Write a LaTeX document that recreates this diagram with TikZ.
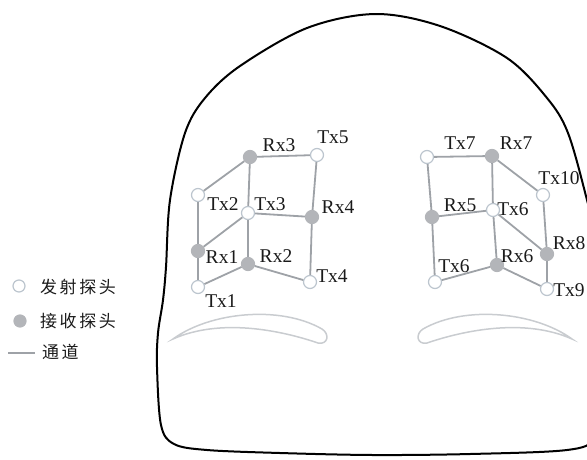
\documentclass[tikz,border=0pt]{standalone}
\usepackage{fontspec}
\setmainfont{Liberation Serif}
\newfontfamily\cjkfont[LetterSpace=15]{Noto Sans CJK SC}
\definecolor{ink}{HTML}{1A1A1A}
\definecolor{chan}{HTML}{9EA2A7}
\definecolor{rxfill}{HTML}{B3B5B9}
\definecolor{txedge}{HTML}{BCC5CE}
\definecolor{brow}{HTML}{C9CCD0}
\begin{document}
\begin{tikzpicture}[x=1pt,y=-1pt,
  probe/.style={circle,minimum size=13pt,inner sep=0pt,line width=1.2pt},
  tx/.style={probe,draw=txedge,fill=white},
  rx/.style={probe,draw=rxfill,fill=rxfill},
  chan/.style={draw=chan,line width=1.8pt},
  lbl/.style={inner sep=0pt,font=\fontsize{19.5}{20}\selectfont,text=ink},
  legend/.style={inner sep=0pt,anchor=west,font=\cjkfont\fontsize{17}{18}\selectfont,text=ink},
  headline/.style={draw=black,line width=2pt},
  browline/.style={draw=brow,line width=1.5pt}]
\useasboundingbox (0,0) rectangle (587,459);
\begin{scope}
\clip (0,0) rectangle (587,459);
% head outline
\draw[headline] plot[smooth cycle,tension=0.55] coordinates {
  (375,14) (440,26) (507,58) (547,98) (568,133) (587,200) (601,260)
  (607,330) (606,400) (595,438) (567,450) (470,454) (373,455) (280,453)
  (207,450) (174,444) (161,425) (157,367) (158,333) (163,300) (166,267)
  (170,200) (185,133) (205,98) (240,66) (307,28)};
\end{scope}
% eyebrows
\draw[browline] (173,339) .. controls (210,312) and (280,305) .. (322,329)
  .. controls (330,334) and (328,345) .. (318,343)
  .. controls (280,330) and (220,318) .. cycle;
\draw[browline] (572,339) .. controls (535,312) and (465,305) .. (423,329)
  .. controls (415,334) and (417,345) .. (427,343)
  .. controls (465,330) and (525,318) .. cycle;

% left probe set
\node[rx] (rx3) at (250,157) {};
\node[tx] (tx5) at (317,155) {};
\node[tx] (tx2) at (198,195) {};
\node[tx] (tx3) at (248,213) {};
\node[rx] (rx4) at (312,217) {};
\node[rx] (rx1) at (198,251) {};
\node[rx] (rx2) at (248,264) {};
\node[tx] (tx4) at (310,282) {};
\node[tx] (tx1) at (198,287) {};
\draw[chan] (rx3) -- (tx5);
\draw[chan] (rx3) -- (tx2);
\draw[chan] (rx3) -- (tx3);
\draw[chan] (tx5) -- (rx4);
\draw[chan] (tx2) -- (rx1);
\draw[chan] (tx3) -- (rx4);
\draw[chan] (tx3) -- (rx1);
\draw[chan] (tx3) -- (rx2);
\draw[chan] (rx4) -- (tx4);
\draw[chan] (rx1) -- (tx1);
\draw[chan] (rx2) -- (tx1);
\draw[chan] (rx2) -- (tx4);
\node[lbl] (l-rx3) at (279,145) {Rx3};
\node[lbl] (l-tx5) at (333,137) {Tx5};
\node[lbl] (l-tx2) at (223,204) {Tx2};
\node[lbl] (l-tx3) at (270,204) {Tx3};
\node[lbl] (l-rx4) at (338,207) {Rx4};
\node[lbl] (l-rx1) at (222,257) {Rx1};
\node[lbl] (l-rx2) at (276,256) {Rx2};
\node[lbl] (l-tx4) at (332,276) {Tx4};
\node[lbl] (l-tx1) at (221,301) {Tx1};

% right probe set
\node[tx] (tx7) at (427,157) {};
\node[rx] (rx7) at (492,156) {};
\node[tx] (tx10) at (543,195) {};
\node[rx] (rx5) at (432,217) {};
\node[tx] (tx6a) at (493,210) {};
\node[rx] (rx8) at (547,254) {};
\node[rx] (rx6) at (497,265) {};
\node[tx] (tx6b) at (435,282) {};
\node[tx] (tx9) at (547,289) {};
\draw[chan] (tx7) -- (rx7);
\draw[chan] (tx7) -- (rx5);
\draw[chan] (rx7) -- (tx6a);
\draw[chan] (rx7) -- (tx10);
\draw[chan] (rx5) -- (tx6a);
\draw[chan] (rx5) -- (tx6b);
\draw[chan] (tx6a) -- (rx6);
\draw[chan] (tx6a) -- (rx8);
\draw[chan] (tx10) -- (rx8);
\draw[chan] (rx8) -- (tx9);
\draw[chan] (tx6b) -- (rx6);
\draw[chan] (rx6) -- (tx9);
\node[lbl] (l-tx7) at (460,143) {Tx7};
\node[lbl] (l-rx7) at (516,143) {Rx7};
\node[lbl] (l-tx10) at (559,178) {Tx10};
\node[lbl] (l-rx5) at (460,205) {Rx5};
\node[lbl] (l-tx6a) at (513,209) {Tx6};
\node[lbl] (l-rx8) at (569,243) {Rx8};
\node[lbl] (l-rx6) at (517,256) {Rx6};
\node[lbl] (l-tx6b) at (454,266) {Tx6};
\node[lbl] (l-tx9) at (569,290) {Tx9};

% legend
\node[tx,minimum size=12pt] (key-tx) at (19,286) {};
\node[legend] (key-tx-text) at (40,287) {发射探头};
\node[rx,minimum size=12pt] (key-rx) at (20,321) {};
\node[legend] (key-rx-text) at (40,321) {接收探头};
\coordinate (key-ch-a) at (8,353);
\coordinate (key-ch-b) at (35,353);
\draw[chan,line width=1.4pt] (key-ch-a) -- (key-ch-b);
\node[legend] (key-ch-text) at (42,352) {通道};
\end{tikzpicture}
\end{document}
